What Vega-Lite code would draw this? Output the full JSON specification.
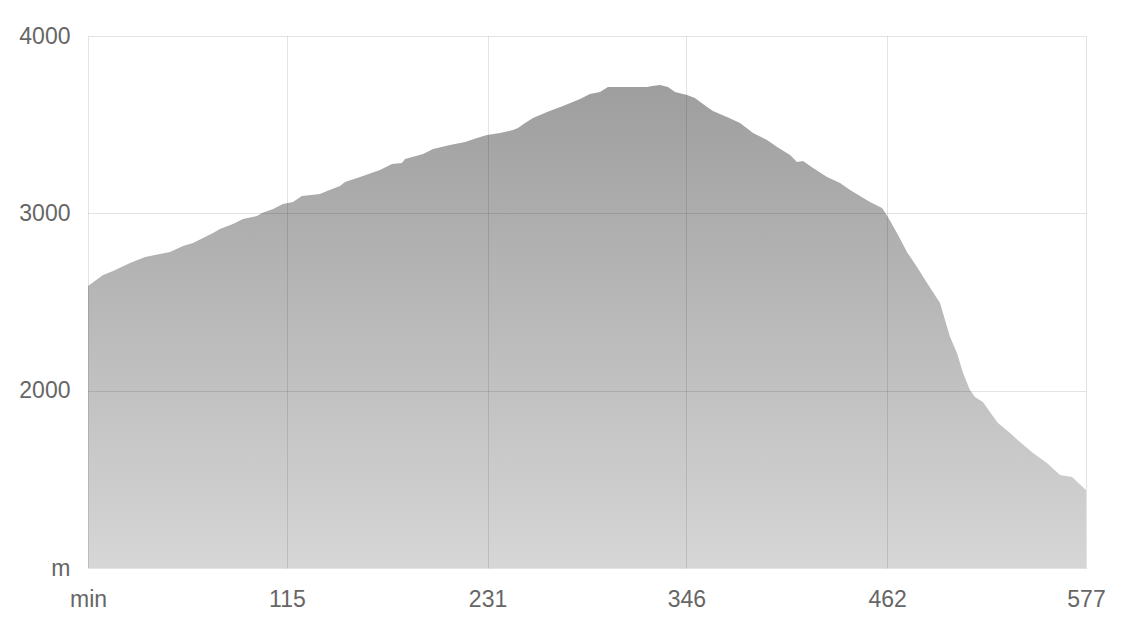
{
  "$schema": "https://vega.github.io/schema/vega-lite/v6.json",
  "width": 998,
  "height": 532,
  "autosize": {"type": "none"},
  "padding": {"left": 88, "top": 36, "right": 38, "bottom": 67},
  "background": "white",
  "config": {
    "view": {"stroke": null},
    "axis": {
      "labelFont": "Liberation Sans",
      "labelFontSize": 23,
      "labelColor": "#666666",
      "ticks": false,
      "domain": false,
      "gridColor": "#000000",
      "gridOpacity": 0.11,
      "gridWidth": 1,
      "title": null
    }
  },
  "data": {
    "values": [
      {"t": 0, "ele": 2590},
      {"t": 8.7, "ele": 2652},
      {"t": 14.5, "ele": 2675},
      {"t": 24.3, "ele": 2720},
      {"t": 33.0, "ele": 2754},
      {"t": 47.4, "ele": 2782},
      {"t": 54.9, "ele": 2816},
      {"t": 60.7, "ele": 2833},
      {"t": 72.3, "ele": 2889},
      {"t": 76.3, "ele": 2912},
      {"t": 83.8, "ele": 2940},
      {"t": 89.6, "ele": 2968},
      {"t": 97.7, "ele": 2985},
      {"t": 100.6, "ele": 3002},
      {"t": 107.0, "ele": 3024},
      {"t": 112.7, "ele": 3053},
      {"t": 118.5, "ele": 3064},
      {"t": 123.7, "ele": 3098},
      {"t": 134.1, "ele": 3109},
      {"t": 138.2, "ele": 3126},
      {"t": 145.7, "ele": 3154},
      {"t": 148.6, "ele": 3177},
      {"t": 157.3, "ele": 3205},
      {"t": 168.8, "ele": 3244},
      {"t": 175.8, "ele": 3278},
      {"t": 181.5, "ele": 3284},
      {"t": 183.3, "ele": 3306},
      {"t": 193.7, "ele": 3335},
      {"t": 199.5, "ele": 3363},
      {"t": 209.3, "ele": 3385},
      {"t": 218.0, "ele": 3402},
      {"t": 224.9, "ele": 3425},
      {"t": 230.7, "ele": 3442},
      {"t": 238.2, "ele": 3453},
      {"t": 245.7, "ele": 3470},
      {"t": 248.6, "ele": 3481},
      {"t": 252.7, "ele": 3509},
      {"t": 257.3, "ele": 3538},
      {"t": 265.4, "ele": 3571},
      {"t": 274.6, "ele": 3605},
      {"t": 284.5, "ele": 3645},
      {"t": 290.2, "ele": 3673},
      {"t": 296.0, "ele": 3684},
      {"t": 300.6, "ele": 3712},
      {"t": 313.4, "ele": 3712},
      {"t": 323.2, "ele": 3712},
      {"t": 326.1, "ele": 3718},
      {"t": 330.7, "ele": 3724},
      {"t": 335.3, "ele": 3712},
      {"t": 339.4, "ele": 3684},
      {"t": 346.3, "ele": 3667},
      {"t": 350.9, "ele": 3650},
      {"t": 357.9, "ele": 3600},
      {"t": 361.3, "ele": 3577},
      {"t": 369.4, "ele": 3543},
      {"t": 377.0, "ele": 3509},
      {"t": 384.5, "ele": 3453},
      {"t": 392.6, "ele": 3414},
      {"t": 398.4, "ele": 3374},
      {"t": 405.9, "ele": 3329},
      {"t": 409.9, "ele": 3289},
      {"t": 413.4, "ele": 3295},
      {"t": 419.2, "ele": 3256},
      {"t": 427.3, "ele": 3205},
      {"t": 434.8, "ele": 3171},
      {"t": 440.6, "ele": 3132},
      {"t": 452.1, "ele": 3064},
      {"t": 459.1, "ele": 3030},
      {"t": 462.5, "ele": 2979},
      {"t": 467.7, "ele": 2889},
      {"t": 473.5, "ele": 2782},
      {"t": 479.3, "ele": 2697},
      {"t": 485.1, "ele": 2607},
      {"t": 488.5, "ele": 2556},
      {"t": 492.6, "ele": 2494},
      {"t": 494.3, "ele": 2438},
      {"t": 498.4, "ele": 2303},
      {"t": 502.4, "ele": 2212},
      {"t": 505.9, "ele": 2100},
      {"t": 509.9, "ele": 2004},
      {"t": 512.8, "ele": 1964},
      {"t": 517.4, "ele": 1936},
      {"t": 522.7, "ele": 1863},
      {"t": 526.1, "ele": 1818},
      {"t": 533.1, "ele": 1761},
      {"t": 538.8, "ele": 1711},
      {"t": 546.4, "ele": 1649},
      {"t": 554.4, "ele": 1592},
      {"t": 562.0, "ele": 1524},
      {"t": 568.9, "ele": 1513},
      {"t": 577, "ele": 1440}
    ]
  },
  "mark": {
    "type": "area",
    "clip": true,
    "color": {
      "gradient": "linear",
      "x1": 0, "y1": 0, "x2": 0, "y2": 1,
      "stops": [
        {"offset": 0, "color": "#9e9e9e"},
        {"offset": 1, "color": "#d6d6d6"}
      ]
    }
  },
  "encoding": {
    "x": {
      "field": "t",
      "type": "quantitative",
      "scale": {"domain": [0, 577], "nice": false, "zero": false},
      "axis": {
        "values": [0, 115, 231, 346, 462, 577],
        "zindex": 1,
        "labelPadding": 20,
        "labelFlush": false,
        "labelOverlap": false,
        "labelExpr": "datum.value == 0 ? 'min' : datum.label"
      }
    },
    "y": {
      "field": "ele",
      "type": "quantitative",
      "scale": {"domain": [1000, 4000], "nice": false, "zero": false},
      "axis": {
        "values": [1000, 2000, 3000, 4000],
        "zindex": 1,
        "format": "d",
        "labelPadding": 18,
        "labelOverlap": false,
        "labelExpr": "datum.value == 1000 ? 'm' : datum.label"
      }
    },
    "y2": {"datum": 1000}
  }
}
